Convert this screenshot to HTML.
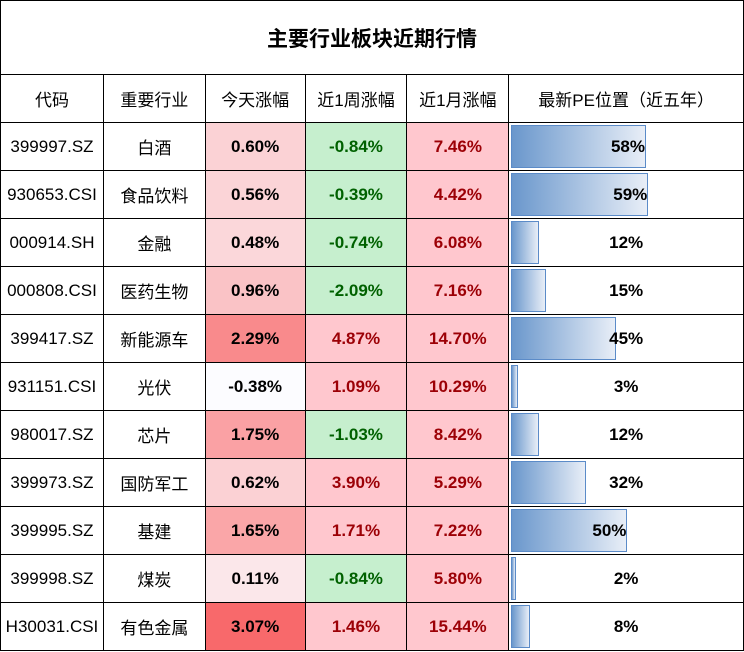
<!DOCTYPE html>
<html><head><meta charset="utf-8"><style>
body{margin:0;background:#fff;font-family:"Liberation Sans","Noto Sans CJK SC",sans-serif;}
#wrap{position:relative;width:744px;height:652px;overflow:hidden;}
table{border-collapse:collapse;position:absolute;left:0;top:0;table-layout:fixed;}
td{border:1px solid #000;text-align:center;font-size:17px;padding:0;height:47px;color:#000;}
td.title{height:73px;font-size:21px;font-weight:bold;border-top:1px solid #000;}
.hdr td{font-size:17px;}
.num{font-weight:bold;}
.pe{position:relative;text-align:right;}
.bar{position:absolute;left:2px;top:2px;bottom:2px;border:1px solid #5b8bc8;background:linear-gradient(to right,#6a97cc,#e8eef7);box-sizing:border-box;}
.pe span{position:relative;font-weight:bold;}
</style></head><body>
<div id="wrap">
<table id="tbl">
<colgroup><col style="width:103px"><col style="width:102px"><col style="width:100px"><col style="width:102px"><col style="width:102px"><col style="width:235px"></colgroup>
<tr><td class="title" colspan="6">主要行业板块近期行情</td></tr>
<tr class="hdr">
<td>代码</td>
<td>重要行业</td>
<td>今天涨幅</td>
<td>近1周涨幅</td>
<td>近1月涨幅</td>
<td>最新PE位置（近五年）</td>
</tr>
</table>
</div>
<script>
const codes=["399997.SZ","930653.CSI","000914.SH","000808.CSI","399417.SZ","931151.CSI","980017.SZ","399973.SZ","399995.SZ","399998.SZ","H30031.CSI"];
const industries=["白酒","食品饮料","金融","医药生物","新能源车","光伏","芯片","国防军工","基建","煤炭","有色金属"];
const today=[0.60,0.56,0.48,0.96,2.29,-0.38,1.75,0.62,1.65,0.11,3.07];
const week=[-0.84,-0.39,-0.74,-2.09,4.87,1.09,-1.03,3.90,1.71,-0.84,1.46];
const month=[7.46,4.42,6.08,7.16,14.70,10.29,8.42,5.29,7.22,5.80,15.44];
const pe=[58,59,12,15,45,3,12,32,50,2,8];
const tbl=document.getElementById('tbl');
const tmin=Math.min(...today),tmax=Math.max(...today);
function scaleColor(v){const t=(v-tmin)/(tmax-tmin);const a=[252,252,255],b=[248,105,107];return 'rgb('+a.map((c,i)=>Math.round(c+(b[i]-c)*t)).join(',')+')';}
const peMax=Math.max(...pe);
for(let i=0;i<codes.length;i++){
 const tr=document.createElement('tr');
 
 
 const c1=document.createElement('td');c1.textContent=codes[i];
 
 
 const c2=document.createElement('td');c2.textContent=industries[i];
 
 
 const c3=document.createElement('td');c3.className='num';c3.textContent=today[i].toFixed(2)+'%';c3.style.background=scaleColor(today[i]);
 
 
 const c4=document.createElement('td');c4.className='num';c4.textContent=week[i].toFixed(2)+'%';
 if(week[i]<0){c4.style.background='#c6efce';c4.style.color='#006100';}else{c4.style.background='#ffc7ce';c4.style.color='#9c0006';}
 
 
 const c5=document.createElement('td');c5.className='num';c5.textContent=month[i].toFixed(2)+'%';
 if(month[i]<0){c5.style.background='#c6efce';c5.style.color='#006100';}else{c5.style.background='#ffc7ce';c5.style.color='#9c0006';}
 
 
 const c6=document.createElement('td');c6.className='pe';
 
 
 const bar=document.createElement('div');bar.className='bar';bar.style.width=(pe[i]/peMax*137)+'px';
 
 
 const sp=document.createElement('span');sp.textContent=pe[i]+'%';
 const w=pe[i]/peMax*137;
 if(w>110){c6.style.textAlign='left';sp.style.marginLeft=(w-33)+'px';}else{c6.style.textAlign='center';sp.style.marginLeft='0';}
 
 
 c6.appendChild(bar);c6.appendChild(sp);
 [c1,c2,c3,c4,c5,c6].forEach(c=>tr.appendChild(c));
 tbl.appendChild(tr);
}
</script>
</body></html>
